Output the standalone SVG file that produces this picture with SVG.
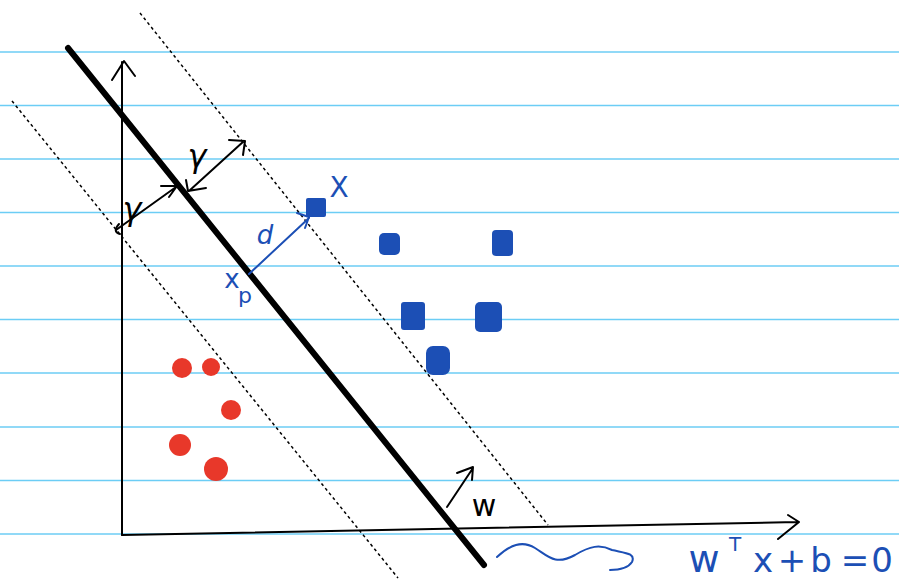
<svg xmlns="http://www.w3.org/2000/svg" width="899" height="580" viewBox="0 0 899 580">
<style>
.rule{stroke:#6ccdf5;stroke-width:1.5}
.ax{stroke:#000;stroke-width:2;fill:none;stroke-linecap:round;stroke-linejoin:round}
.dash{stroke:#000;stroke-width:1.5;stroke-dasharray:3,3;fill:none}
.blue{fill:#1c4fb5}
.bl{stroke:#1c4fb5;stroke-width:2;fill:none;stroke-linecap:round;stroke-linejoin:round}
.red{fill:#e8382a}
.t{font-family:"DejaVu Sans",sans-serif}
.eq{font-family:"DejaVu Sans",sans-serif;fill:#1c4fb5;font-size:34px;text-anchor:middle}
</style>
<rect width="899" height="580" fill="#fff"/>
<g id="rules">
<line class="rule" x1="0" y1="52" x2="899" y2="52"/>
<line class="rule" x1="0" y1="105.5" x2="899" y2="105.5"/>
<line class="rule" x1="0" y1="159" x2="899" y2="159"/>
<line class="rule" x1="0" y1="212.5" x2="899" y2="212.5"/>
<line class="rule" x1="0" y1="266" x2="899" y2="266"/>
<line class="rule" x1="0" y1="319.5" x2="899" y2="319.5"/>
<line class="rule" x1="0" y1="373" x2="899" y2="373"/>
<line class="rule" x1="0" y1="427" x2="899" y2="427"/>
<line class="rule" x1="0" y1="480.5" x2="899" y2="480.5"/>
<line class="rule" x1="0" y1="534" x2="899" y2="534"/>
</g>
<g id="axes">
<path class="ax" d="M122,535 L122,62 M112,80 L124,61 L135,76"/>
<path class="ax" d="M122,535 L797,522 M788,515 L799,522 L778,539"/>
</g>
<g id="margins">
<line class="dash" x1="140" y1="13" x2="548" y2="525"/>
<line class="dash" x1="12" y1="101" x2="398" y2="578"/>
</g>
<g id="hyperplane">
<line x1="68" y1="48" x2="484" y2="565" stroke="#000" stroke-width="6" stroke-linecap="round"/>
</g>
<g id="gamma">
<path class="ax" d="M116,230 L176,187 M161,186 L177,186 L169,197"/>
<path class="ax" d="M119,224 Q112,232 120,234"/>
<path class="ax" d="M189,191 L244,141 M229,140 L245,141 L243,155 M186,180 L188,191 L206,188"/>
<text class="t" x="132" y="220" font-size="32" text-anchor="middle" font-style="italic">γ</text>
<text class="t" x="197" y="167" font-size="32" text-anchor="middle" font-style="italic">γ</text>
</g>
<g id="distance">
<path class="bl" d="M249,274 L309,218 M297,213 L309,217 L305,228"/>
<text class="t" x="265" y="244" font-size="26" fill="#1c4fb5" text-anchor="middle" font-style="italic">d</text>
<text class="t" x="232" y="288" font-size="26" fill="#1c4fb5" text-anchor="middle">x</text>
<text class="t" x="245" y="303" font-size="22" fill="#1c4fb5" text-anchor="middle">p</text>
<rect class="blue" x="306" y="198" width="20" height="19" rx="2"/>
<text class="t" x="339" y="197" font-size="28" fill="#1c4fb5" text-anchor="middle">X</text>
</g>
<g id="positive">
<rect class="blue" x="379" y="233" width="21" height="22" rx="5"/>
<rect class="blue" x="492" y="230" width="21" height="26" rx="4"/>
<rect class="blue" x="401" y="302" width="24" height="28" rx="3"/>
<rect class="blue" x="475" y="302" width="27" height="30" rx="5"/>
<rect class="blue" x="426" y="346" width="24" height="29" rx="7"/>
</g>
<g id="negative">
<circle class="red" cx="182" cy="368" r="10"/>
<circle class="red" cx="211" cy="367" r="9"/>
<circle class="red" cx="231" cy="410" r="10"/>
<circle class="red" cx="180" cy="445" r="11"/>
<circle class="red" cx="216" cy="469" r="12"/>
</g>
<g id="normal">
<path class="ax" d="M447,507 L473,468 M457,473 L473,467 L472,480"/>
<text class="t" x="484" y="516" font-size="30" text-anchor="middle">w</text>
</g>
<g id="equation">
<path class="bl" stroke-width="3" d="M497,557 C510,545 522,540 535,548 C548,556 555,566 575,555 C590,546 600,544 612,550 C625,553 636,553 632,562 C628,568 620,570 610,570"/>
<text class="eq" x="704" y="572" style="font-size:38px">w</text>
<text class="eq" x="735" y="551" style="font-size:20px">T</text>
<text class="eq" x="763" y="572">x</text>
<text class="eq" x="792" y="572">+</text>
<text class="eq" x="821" y="572">b</text>
<text class="eq" x="855" y="572">=</text>
<text class="eq" x="882" y="572">0</text>
</g>
</svg>
